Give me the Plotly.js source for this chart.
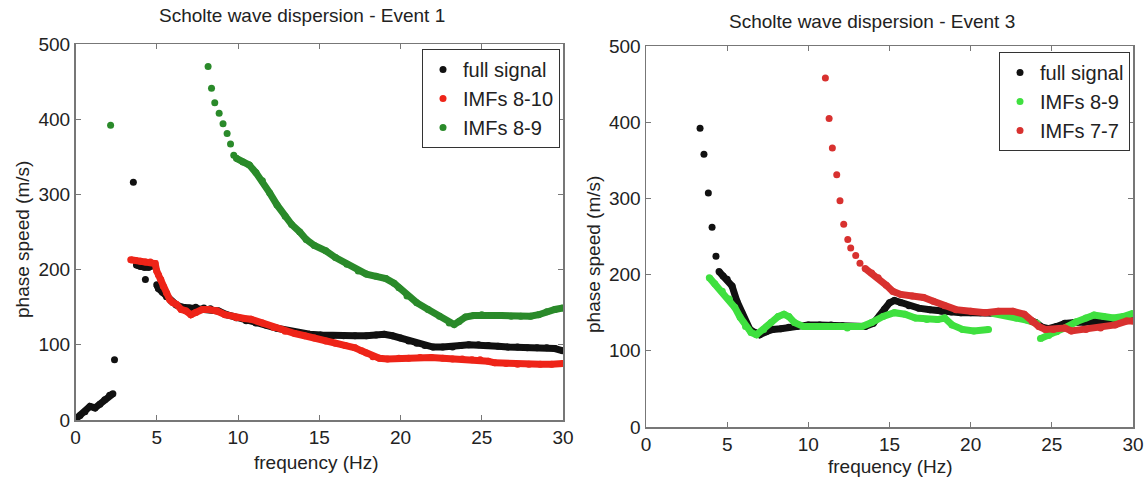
<!DOCTYPE html>
<html>
<head>
<meta charset="utf-8">
<script src="https://cdn.plot.ly/plotly-3.0.1.min.js"></script>
<style>html,body{margin:0;padding:0;background:#fff;}#chart{width:1148px;height:478px;}</style>
</head>
<body>
<div id="chart"></div>
<script>
// ---------- Event 1 ----------
// full signal
const e1FullLowF  = [0.0, 0.28, 0.58, 0.89, 1.2, 1.5, 1.8, 2.1, 2.3];
const e1FullLowV  = [1, 6, 11, 18, 16, 21, 27, 33, 35];
const e1FullDotF  = [2.4, 3.56, 4.3];
const e1FullDotV  = [80, 316, 187];
const e1FullMidF  = [3.75, 4.0, 4.25, 4.5, 4.75];
const e1FullMidV  = [206, 204, 203, 203, 205];
const e1FullMainF = [5.0, 5.1, 5.35, 5.6, 5.9, 6.2, 6.6, 7.0, 7.4, 7.9, 8.3, 8.8, 9.3, 9.9, 10.5, 11.1, 11.75, 12.4, 13.0, 13.7, 14.4, 15.1, 15.8, 16.5, 17.2, 17.9, 18.5, 19.0, 19.5, 20.0, 20.5, 21.0, 21.5, 22.0, 22.6, 23.2, 23.7, 24.2, 24.8, 25.4, 26.0, 26.6, 27.2, 27.8, 28.4, 29.0, 29.5, 30.0];
const e1FullMainV = [180, 175, 170, 164, 158, 153, 150, 149, 150, 149, 148, 145, 140, 136, 132, 129, 126, 122, 119, 116, 114, 113, 112, 112, 112, 112, 113, 114, 112, 109, 105, 102, 99, 97, 97, 97, 99, 100, 100, 99, 98, 97, 97, 96, 96, 96, 95, 92];
// IMFs 8-10
const e1Imf810F = [3.4, 3.7, 4.0, 4.3, 4.6, 4.9, 5.0, 5.1, 5.25, 5.4, 5.6, 5.8, 6.0, 6.2, 6.5, 6.8, 7.1, 7.4, 7.8, 8.2, 8.7, 9.2, 9.9, 10.4, 10.8, 11.5, 12.2, 12.9, 13.5, 14.1, 14.7, 15.4, 16.0, 16.6, 17.2, 17.6, 17.9, 18.3, 18.7, 19.2, 19.9, 20.5, 21.2, 21.9, 22.6, 23.2, 23.8, 24.4, 24.9, 25.4, 25.8, 26.5, 27.2, 27.9, 28.6, 29.3, 30.0];
const e1Imf810V = [213, 212, 211, 210, 210, 208, 198, 193, 187, 178, 169, 160, 156, 154, 147, 145, 140, 143, 147, 147, 145, 140, 136, 135, 134, 129, 123, 118, 115, 112, 109, 105, 102, 99, 96, 92, 89, 84, 82, 81, 82, 82, 83, 83, 82, 81, 81, 80, 80, 78, 76, 75, 74, 74, 74, 74, 75];
// IMFs 8-9
const e1Imf89DotF  = [2.16, 8.16, 8.37, 8.57, 8.84, 9.08, 9.33, 9.54, 9.74];
const e1Imf89DotV  = [392, 470, 441, 422, 408, 394, 381, 367, 352];
const e1Imf89BandF = [9.9, 10.3, 10.7, 11.1, 11.5, 11.95, 12.4, 12.9, 13.3, 13.8, 14.2, 14.7, 15.4, 16.0, 16.7, 17.4, 17.9, 18.5, 19.1, 19.6, 19.9, 20.4, 21.0, 21.7, 22.4, 23.0, 23.3, 23.6, 24.0, 24.5, 25.0, 25.6, 26.2, 26.8, 27.4, 28.0, 28.5, 29.0, 29.5, 30.0];
const e1Imf89BandV = [348, 343, 339, 329, 318, 302, 286, 271, 260, 250, 240, 232, 225, 216, 207, 198, 194, 191, 188, 182, 176, 165, 156, 147, 138, 129, 127, 131, 137, 139, 140, 139, 139, 138, 138, 138, 140, 144, 147, 149];

// ---------- Event 3 ----------
// full signal
const e3FullDotF  = [3.33, 3.57, 3.84, 4.07, 4.31];
const e3FullDotV  = [392, 358, 307, 262, 224];
const e3FullBandF = [4.5, 4.75, 5.0, 5.3, 5.6, 5.9, 6.1, 6.4, 6.7, 7.0, 7.4, 7.8, 8.3, 8.8, 9.3, 10.0, 10.7, 11.4, 12.1, 12.8, 13.5, 14.0, 14.4, 14.7, 15.0, 15.3, 15.7, 16.2, 16.8, 17.5, 18.2, 18.8, 19.4, 20.0, 20.6, 21.2, 21.8, 22.4, 23.0, 23.5, 24.0, 24.4, 24.8, 25.3, 25.8, 26.4, 27.0, 27.6, 28.2, 28.8, 29.4, 30.0];
const e3FullBandV = [204, 198, 194, 185, 165, 150, 138, 128, 124, 121, 125, 128, 129, 131, 132, 134, 134, 134, 133, 132, 132, 136, 146, 155, 163, 166, 163, 159, 156, 154, 152, 151, 150, 150, 150, 150, 150, 149, 147, 143, 137, 131, 129, 132, 136, 137, 137, 138, 140, 142, 142, 141];
// IMFs 8-9
const e3Imf89S1F = [3.9, 4.24, 4.7, 5.13, 5.47, 5.8, 6.13, 6.47, 6.8, 7.25, 7.7, 8.14, 8.5, 8.8, 9.15, 9.7, 10.6, 11.5, 12.4, 13.3, 13.9, 14.6, 15.3, 15.95, 16.6, 17.3, 17.96, 18.4, 18.85, 19.5, 20.2, 21.1];
const e3Imf89S1V = [196, 188, 178, 168, 157, 144, 132, 124, 121, 128, 137, 145, 148, 145, 137, 132, 132, 132, 130, 132, 137, 145, 150, 148, 143, 141, 141, 143, 134, 128, 126, 128];
const e3Imf89S2F = [21.4, 22.1, 22.8, 23.5, 24.1];
const e3Imf89S2V = [149, 147, 143, 140, 136];
const e3Imf89S3F = [24.3, 24.8, 25.3, 25.9, 26.5, 27.1, 27.6, 28.2, 28.8, 29.4, 30.0];
const e3Imf89S3V = [116, 120, 125, 131, 138, 143, 147, 145, 143, 145, 149];
// IMFs 7-7
const e3Imf77DotF  = [11.05, 11.28, 11.48, 11.75, 11.95, 12.18, 12.43, 12.61, 12.92, 13.18];
const e3Imf77DotV  = [458, 405, 366, 331, 297, 266, 246, 235, 225, 215];
const e3Imf77BandF = [13.5, 13.9, 14.3, 14.8, 15.2, 15.7, 16.4, 17.1, 17.7, 18.4, 19.1, 20.0, 20.9, 21.7, 22.6, 23.3, 23.8, 24.2, 24.6, 25.1, 25.8, 26.2, 27.1, 28.0, 28.9, 29.6, 30.0];
const e3Imf77BandV = [208, 202, 196, 186, 178, 174, 172, 170, 165, 159, 154, 152, 150, 152, 152, 148, 138, 132, 128, 128, 130, 126, 128, 130, 134, 139, 139];

// ---------- labels ----------
const titleLeft  = 'Scholte wave dispersion - Event 1';
const titleRight = 'Scholte wave dispersion - Event 3';
const xLabel = 'frequency (Hz)';
const yLabel = 'phase speed (m/s)';
const xTicks = [0, 5, 10, 15, 20, 25, 30];
const yTicks = [0, 100, 200, 300, 400, 500];

// colours
const cBlack = '#111111';
const cRed1 = '#ee2418';
const cGreen1 = '#2a8a2a';
const cGreen3 = '#3fe03f';
const cRed3 = '#d8312f';

function join(segs) { // segments of [F,V] -> arrays with gaps
  const x = [], y = [];
  segs.forEach((s, i) => { if (i) { x.push(null); y.push(null); } x.push(...s[0]); y.push(...s[1]); });
  return {x, y};
}
function series(name, color, dotSegs, bandSegs, xa, ya, legend) {
  const band = join(bandSegs);
  const all = join(dotSegs.concat(bandSegs));
  return [
    {type:'scatter', mode:'lines', x: band.x, y: band.y, xaxis: xa, yaxis: ya, showlegend:false,
     line:{color: color, width:7}, hoverinfo:'skip', connectgaps:false},
    {type:'scatter', mode:'markers', name: name, x: all.x, y: all.y, xaxis: xa, yaxis: ya, legend: legend,
     marker:{color: color, size:7, line:{width:0}}}
  ];
}

const traces = [].concat(
  series('full signal', cBlack, [[e1FullDotF, e1FullDotV]], [[e1FullLowF, e1FullLowV], [e1FullMidF, e1FullMidV], [e1FullMainF, e1FullMainV]], 'x', 'y', 'legend'),
  series('IMFs 8-10', cRed1, [], [[e1Imf810F, e1Imf810V]], 'x', 'y', 'legend'),
  series('IMFs 8-9', cGreen1, [[e1Imf89DotF, e1Imf89DotV]], [[e1Imf89BandF, e1Imf89BandV]], 'x', 'y', 'legend'),
  series('full signal', cBlack, [[e3FullDotF, e3FullDotV]], [[e3FullBandF, e3FullBandV]], 'x2', 'y2', 'legend2'),
  series('IMFs 8-9', cGreen3, [], [[e3Imf89S1F, e3Imf89S1V], [e3Imf89S2F, e3Imf89S2V], [e3Imf89S3F, e3Imf89S3V]], 'x2', 'y2', 'legend2'),
  series('IMFs 7-7', cRed3, [[e3Imf77DotF, e3Imf77DotV]], [[e3Imf77BandF, e3Imf77BandV]], 'x2', 'y2', 'legend2')
);

const W = 1148, H = 478;
const px = v => v / W, py = v => 1 - v / H;
const tickFont = {family:'Liberation Sans, Arial, sans-serif', size:19, color:'#222'};
function xaxis(d0, d1, anchor) {
  return {domain:[px(d0), px(d1)], anchor: anchor, range:[0, 30], tickvals: xTicks, ticktext: xTicks.map(String),
    showline:true, mirror:'allticks', linecolor:'#777', linewidth:1.5, ticks:'inside', ticklen:5, tickcolor:'#777',
    showgrid:false, zeroline:false, tickfont: tickFont, automargin:false, fixedrange:true};
}
function yaxis(d0, d1, anchor) {
  return {domain:[py(d1), py(d0)], anchor: anchor, range:[0, 500], tickvals: yTicks, ticktext: yTicks.map(String),
    showline:true, mirror:'allticks', linecolor:'#777', linewidth:1.5, ticks:'inside', ticklen:5, tickcolor:'#777',
    showgrid:false, zeroline:false, tickfont: tickFont, automargin:false, fixedrange:true};
}
const txtFont = s => ({family:'Liberation Sans, Arial, sans-serif', size:s, color:'#222'});
const ann = (text, x, y, size, angle) => ({text: text, x: px(x), y: py(y), xref:'paper', yref:'paper',
  xanchor:'center', yanchor:'middle', showarrow:false, font: txtFont(size), textangle: angle || 0});

const legendBase = {bordercolor:'#333', borderwidth:1, bgcolor:'#fff', font: txtFont(20),
  xanchor:'right', yanchor:'top', xref:'paper', yref:'paper', tracegroupgap:0};

const layout = {
  width: W, height: H, margin:{l:0, r:0, t:0, b:0}, paper_bgcolor:'#fff', plot_bgcolor:'#fff',
  xaxis: xaxis(75.5, 563, 'y'),
  yaxis: yaxis(44, 420, 'x'),
  xaxis2: xaxis(646, 1133, 'y2'),
  yaxis2: yaxis(46, 427, 'x2'),
  legend: Object.assign({}, legendBase, {x: px(560), y: py(49)}),
  legend2: Object.assign({}, legendBase, {x: px(1130), y: py(52)}),
  annotations: [
    ann(titleLeft, 302, 15, 19),
    ann(titleRight, 872, 22, 19),
    ann(xLabel, 316, 462, 19),
    ann(xLabel, 890, 466, 19),
    ann(yLabel, 22, 240, 19, -90),
    ann(yLabel, 593, 255, 19, -90)
  ],
  showlegend: true
};

Plotly.newPlot('chart', traces, layout, {displayModeBar:false, staticPlot:true});
</script>
</body>
</html>
